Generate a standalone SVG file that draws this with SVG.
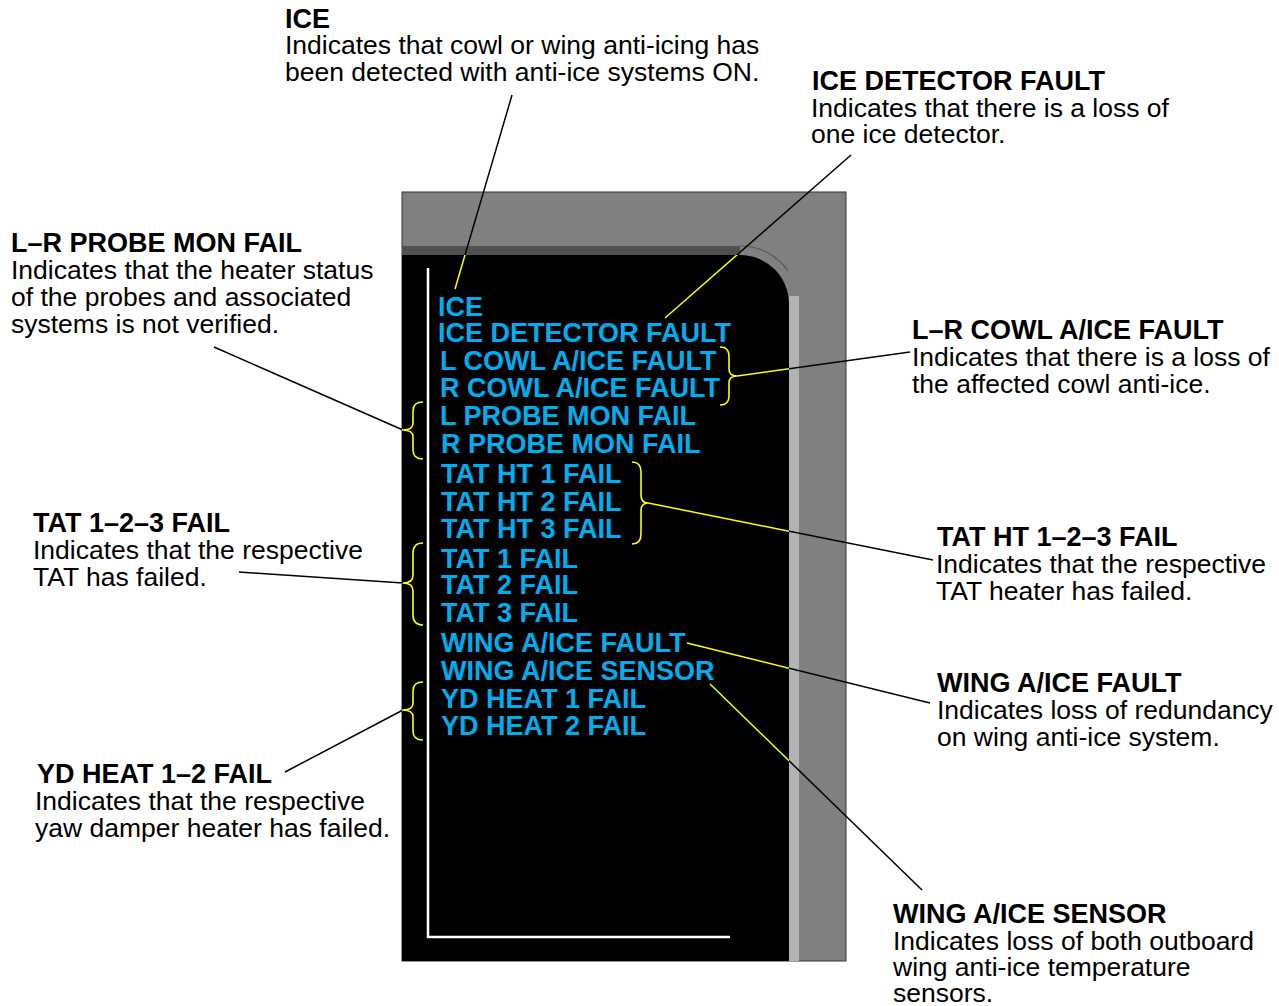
<svg xmlns="http://www.w3.org/2000/svg" width="1279" height="1006" viewBox="0 0 1279 1006">
<style>
.t{font-family:"Liberation Sans",Arial,sans-serif;font-size:26.5px;fill:#000}
.b{font-weight:bold;font-size:27px}
.m{font-family:"Liberation Sans",Arial,sans-serif;font-size:27px;font-weight:bold;fill:#00AEEF}
.br{fill:none;stroke:#FFFF00;stroke-width:1.6}
.ld{fill:none;stroke:#000;stroke-width:1.5}
.ly{fill:none;stroke:#FFFF00;stroke-width:1.5}
</style>
<defs>
<clipPath id="scr"><path d="M402,255 H740 A49,49 0 0 1 789,304 V961 H402 Z"/></clipPath>
</defs>
<rect width="1279" height="1006" fill="#fff"/>
<g id="display">
<rect x="402" y="192" width="444" height="769" fill="#808080" stroke="#333" stroke-width="1"/>
<rect x="402" y="246" width="338" height="9" fill="#505050"/>
<path d="M402,255 H740 A49,49 0 0 1 789,304 V961 H402 Z" fill="#000"/>
<rect x="789" y="296" width="10" height="665" fill="#B3B3B3"/>
<path d="M740,246 A57,57 0 0 1 788,271" fill="none" stroke="#555" stroke-width="1.2"/>
<path d="M428,268 V937 H730" fill="none" stroke="#fff" stroke-width="2.5"/>
</g>
<g id="messages">
<text class="m" x="438" y="316">ICE</text>
<text class="m" x="438" y="342">ICE DETECTOR FAULT</text>
<text class="m" x="440" y="370">L COWL A/ICE FAULT</text>
<text class="m" x="440" y="397">R COWL A/ICE FAULT</text>
<text class="m" x="440" y="425">L PROBE MON FAIL</text>
<text class="m" x="441" y="453">R PROBE MON FAIL</text>
<text class="m" x="441" y="483">TAT HT 1 FAIL</text>
<text class="m" x="441" y="511">TAT HT 2 FAIL</text>
<text class="m" x="441" y="538">TAT HT 3 FAIL</text>
<text class="m" x="441" y="568">TAT 1 FAIL</text>
<text class="m" x="441" y="594">TAT 2 FAIL</text>
<text class="m" x="441" y="622">TAT 3 FAIL</text>
<text class="m" x="441" y="652">WING A/ICE FAULT</text>
<text class="m" x="441" y="680">WING A/ICE SENSOR</text>
<text class="m" x="441" y="708">YD HEAT 1 FAIL</text>
<text class="m" x="441" y="735">YD HEAT 2 FAIL</text>
</g>
<g id="braces">
<path class="br" d="M720,347 Q729,347 729,356 V369 Q729,376 737,376 Q729,376 729,383 V396 Q729,405 720,405"/>
<path class="br" d="M632,462 Q641,462 641,472 V495 Q641,503 648,503 Q641,503 641,511 V534 Q641,544 632,544"/>
<path class="br" d="M423,402 Q413,402 413,411 V423 Q413,430 403,430 Q413,430 413,437 V450 Q413,459 423,459"/>
<path class="br" d="M423,543 Q413,543 413,553 V575 Q413,583 403,583 Q413,583 413,591 V615 Q413,625 423,625"/>
<path class="br" d="M423,682 Q413,682 413,691 V703 Q413,710 403,710 Q413,710 413,717 V731 Q413,740 423,740"/>
</g>
<g id="connectors">
<g>
<path class="ld" d="M512,95 L455,289"/>
<path class="ld" d="M851,155 L665,318"/>
<path class="ld" d="M737,376 L910,352"/>
<path class="ld" d="M214,347 L403,430"/>
<path class="ld" d="M648,503 L933,560"/>
<path class="ld" d="M239,572 L403,583"/>
<path class="ld" d="M687,643 L930,703"/>
<path class="ld" d="M710,684 L922,890"/>
<path class="ld" d="M285,772 L403,710"/>
</g>
<g clip-path="url(#scr)">
<path class="ly" d="M512,95 L455,289"/>
<path class="ly" d="M851,155 L665,318"/>
<path class="ly" d="M737,376 L910,352"/>
<path class="ly" d="M214,347 L403,430"/>
<path class="ly" d="M648,503 L933,560"/>
<path class="ly" d="M239,572 L403,583"/>
<path class="ly" d="M687,643 L930,703"/>
<path class="ly" d="M710,684 L922,890"/>
<path class="ly" d="M285,772 L403,710"/>
</g>
</g>
<g id="label-ice">
<text class="t b" x="285" y="28">ICE</text>
<text class="t" x="285" y="54">Indicates that cowl or wing anti-icing has</text>
<text class="t" x="285" y="81">been detected with anti-ice systems ON.</text>
</g>
<g id="label-ice-detector">
<text class="t b" x="812" y="90">ICE DETECTOR FAULT</text>
<text class="t" x="811" y="117">Indicates that there is a loss of</text>
<text class="t" x="811" y="143">one ice detector.</text>
</g>
<g id="label-probe">
<text class="t b" x="11" y="252">L–R PROBE MON FAIL</text>
<text class="t" x="11" y="279">Indicates that the heater status</text>
<text class="t" x="11" y="306">of the probes and associated</text>
<text class="t" x="11" y="333">systems is not verified.</text>
</g>
<g id="label-cowl">
<text class="t b" x="912" y="339">L–R COWL A/ICE FAULT</text>
<text class="t" x="912" y="366">Indicates that there is a loss of</text>
<text class="t" x="912" y="393">the affected cowl anti-ice.</text>
</g>
<g id="label-tat">
<text class="t b" x="33" y="532">TAT 1–2–3 FAIL</text>
<text class="t" x="33" y="559">Indicates that the respective</text>
<text class="t" x="33" y="586">TAT has failed.</text>
</g>
<g id="label-tat-ht">
<text class="t b" x="937" y="546">TAT HT 1–2–3 FAIL</text>
<text class="t" x="936" y="573">Indicates that the respective</text>
<text class="t" x="936" y="600">TAT heater has failed.</text>
</g>
<g id="label-wing-fault">
<text class="t b" x="937" y="692">WING A/ICE FAULT</text>
<text class="t" x="937" y="719">Indicates loss of redundancy</text>
<text class="t" x="937" y="746">on wing anti-ice system.</text>
</g>
<g id="label-yd">
<text class="t b" x="37" y="783">YD HEAT 1–2 FAIL</text>
<text class="t" x="35" y="810">Indicates that the respective</text>
<text class="t" x="35" y="837">yaw damper heater has failed.</text>
</g>
<g id="label-wing-sensor">
<text class="t b" x="893" y="923">WING A/ICE SENSOR</text>
<text class="t" x="893" y="950">Indicates loss of both outboard</text>
<text class="t" x="893" y="976">wing anti-ice temperature</text>
<text class="t" x="893" y="1002">sensors.</text>
</g>
</svg>
